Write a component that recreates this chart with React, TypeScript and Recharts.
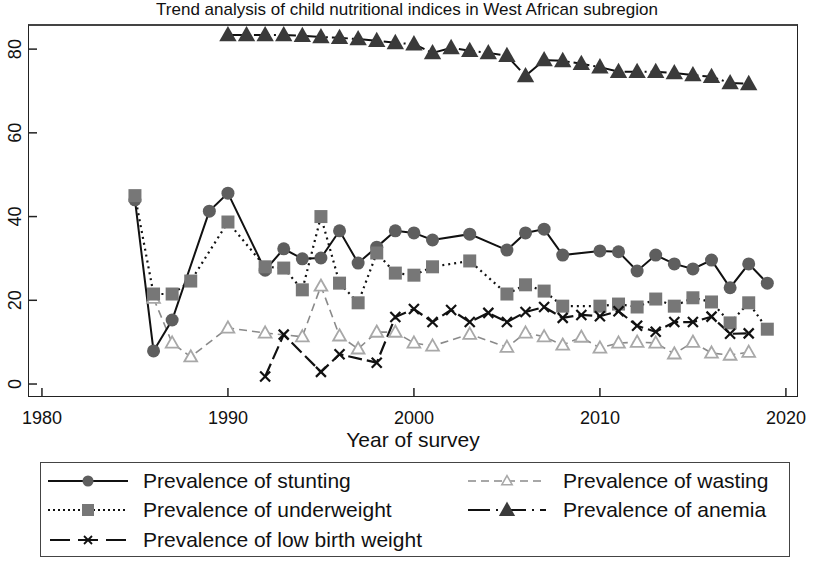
import { LineChart, Line, XAxis, YAxis } from 'recharts';

const FONT = '"Liberation Sans", Arial, sans-serif';

// survey years and prevalence (%)
const stuntingYears = [1985, 1986, 1987, 1989, 1990, 1992, 1993, 1994, 1995, 1996, 1997, 1998, 1999, 2000, 2001, 2003, 2005, 2006, 2007, 2008, 2010, 2011, 2012, 2013, 2014, 2015, 2016, 2017, 2018, 2019];
const stunting = [44, 7.9, 15.3, 41.3, 45.6, 27.2, 32.3, 29.9, 30.1, 36.6, 28.9, 32.7, 36.6, 36.1, 34.4, 35.8, 32.0, 36.1, 37.0, 30.8, 31.8, 31.6, 27.0, 30.8, 28.7, 27.5, 29.6, 23.0, 28.7, 24.1];

const underweightYears = [1985, 1986, 1987, 1988, 1990, 1992, 1993, 1994, 1995, 1996, 1997, 1998, 1999, 2000, 2001, 2003, 2005, 2006, 2007, 2008, 2010, 2011, 2012, 2013, 2014, 2015, 2016, 2017, 2018, 2019];
const underweight = [45, 21.5, 21.5, 24.6, 38.7, 28.0, 27.7, 22.5, 40.0, 24.1, 19.4, 31.3, 26.5, 26.0, 28.0, 29.4, 21.5, 23.7, 22.2, 18.6, 18.6, 19.1, 18.4, 20.3, 18.6, 20.6, 19.6, 14.6, 19.4, 13.1];

const wastingYears = [1986, 1987, 1988, 1990, 1992, 1994, 1995, 1996, 1997, 1998, 1999, 2000, 2001, 2003, 2005, 2006, 2007, 2008, 2009, 2010, 2011, 2012, 2013, 2014, 2015, 2016, 2017, 2018];
const wasting = [20.5, 9.8, 6.5, 13.4, 12.2, 11.3, 23.4, 11.5, 8.4, 12.4, 12.4, 9.8, 9.1, 11.9, 8.8, 12.2, 11.3, 9.3, 11.2, 8.6, 9.8, 10.0, 9.8, 7.2, 10.0, 7.4, 6.9, 7.6];

const lbwYears = [1992, 1993, 1995, 1996, 1998, 1999, 2000, 2001, 2002, 2003, 2004, 2005, 2006, 2007, 2008, 2009, 2010, 2011, 2012, 2013, 2014, 2015, 2016, 2017, 2018];
const lbw = [1.8, 11.8, 2.9, 7.1, 5.1, 16.0, 17.9, 14.8, 17.7, 14.8, 17.0, 14.8, 17.2, 18.4, 15.8, 16.5, 16.2, 17.4, 13.9, 12.5, 14.8, 14.8, 16.1, 12.0, 12.1];

const anemiaYears = [1990, 1991, 1992, 1993, 1994, 1995, 1996, 1997, 1998, 1999, 2000, 2001, 2002, 2003, 2004, 2005, 2006, 2007, 2008, 2009, 2010, 2011, 2012, 2013, 2014, 2015, 2016, 2017, 2018];
const anemia = [83.4, 83.4, 83.4, 83.4, 83.2, 82.9, 82.7, 82.4, 82.0, 81.5, 81.2, 79.1, 80.3, 79.6, 79.1, 78.4, 73.6, 77.4, 77.2, 76.5, 75.7, 74.6, 74.6, 74.6, 74.3, 73.8, 73.4, 71.9, 71.7];

const xTicks = [1980, 1990, 2000, 2010, 2020];
const yTicks = [0, 20, 40, 60, 80];

const allYears = Array.from(
  new Set([...stuntingYears, ...underweightYears, ...wastingYears, ...lbwYears, ...anemiaYears])
).sort((a, b) => a - b);

const pick = (years: number[], vals: number[], y: number) => {
  const i = years.indexOf(y);
  return i >= 0 ? vals[i] : null;
};

const data = allYears.map((year) => ({
  year,
  stunting: pick(stuntingYears, stunting, year),
  underweight: pick(underweightYears, underweight, year),
  wasting: pick(wastingYears, wasting, year),
  lbw: pick(lbwYears, lbw, year),
  anemia: pick(anemiaYears, anemia, year),
}));

// plot frame
const PL = 28;
const PT = 24;
const PR = 798;
const PB = 397;

const empty = (p: any) => p.cx == null || p.cy == null || p.value == null;

const CircleDot = (p: any) =>
  empty(p) ? <g key={p.index} /> : <circle key={p.index} cx={p.cx} cy={p.cy} r={6.5} fill="#5e5e5e" />;

const SquareDot = (p: any) =>
  empty(p) ? <g key={p.index} /> : <rect key={p.index} x={p.cx - 6.5} y={p.cy - 6.5} width={13} height={13} fill="#777" />;

const triPoints = (cx: number, cy: number, s: number) =>
  `${cx},${cy - s * 0.6} ${cx + s * 0.58},${cy + s * 0.42} ${cx - s * 0.58},${cy + s * 0.42}`;

const OpenTriDot = (p: any) =>
  empty(p) ? <g key={p.index} /> : (
    <polygon key={p.index} points={triPoints(p.cx, p.cy, 11)} fill="#fff" stroke="#a8a8a8" strokeWidth={1.8} />
  );

const FillTriDot = (p: any) =>
  empty(p) ? <g key={p.index} /> : <polygon key={p.index} points={triPoints(p.cx, p.cy, 15)} fill="#3a3a3a" />;

const CrossDot = (p: any) => {
  if (empty(p)) return <g key={p.index} />;
  const s = 5;
  return (
    <g key={p.index} stroke="#111" strokeWidth={2.2}>
      <line x1={p.cx - s} y1={p.cy - s} x2={p.cx + s} y2={p.cy + s} />
      <line x1={p.cx - s} y1={p.cy + s} x2={p.cx + s} y2={p.cy - s} />
    </g>
  );
};

const XTick = ({ x, payload }: any) => (
  <g>
    <line x1={x} x2={x} y1={PB} y2={PB - 9} stroke="#222" strokeWidth={1.5} />
    <text x={x} y={424} textAnchor="middle" fontSize={18} fontFamily={FONT} fill="#111">
      {payload.value}
    </text>
  </g>
);

const YTick = ({ y, payload }: any) => (
  <g>
    <line x1={PL} x2={PL + 9} y1={y} y2={y} stroke="#222" strokeWidth={1.5} />
    <text
      x={21}
      y={y}
      transform={`rotate(-90, 21, ${y})`}
      textAnchor="middle"
      fontSize={18}
      fontFamily={FONT}
      fill="#111"
    >
      {payload.value}
    </text>
  </g>
);

type Entry = { label: string; x: number; y: number; icon: JSX.Element };

const legendEntries: Entry[] = [
  {
    label: 'Prevalence of stunting',
    x: 48,
    y: 481,
    icon: (
      <g>
        <line x1={0} x2={80} y1={10} y2={10} stroke="#111" strokeWidth={2} />
        <circle cx={40} cy={10} r={5.5} fill="#5e5e5e" />
      </g>
    ),
  },
  {
    label: 'Prevalence of underweight',
    x: 48,
    y: 510,
    icon: (
      <g>
        <line x1={0} x2={80} y1={10} y2={10} stroke="#111" strokeWidth={2} strokeDasharray="2 3" />
        <rect x={34} y={4} width={12} height={12} fill="#777" />
      </g>
    ),
  },
  {
    label: 'Prevalence of low birth weight',
    x: 48,
    y: 540,
    icon: (
      <g>
        <line x1={0} x2={80} y1={10} y2={10} stroke="#111" strokeWidth={2} strokeDasharray="20 8" strokeDashoffset={-2} />
        <g stroke="#111" strokeWidth={1.8}>
          <line x1={36} y1={6} x2={44} y2={14} />
          <line x1={36} y1={14} x2={44} y2={6} />
        </g>
      </g>
    ),
  },
  {
    label: 'Prevalence of wasting',
    x: 468,
    y: 481,
    icon: (
      <g>
        <line x1={0} x2={78} y1={10} y2={10} stroke="#8a8a8a" strokeWidth={1.5} strokeDasharray="8 5" />
        <polygon points={triPoints(39, 10, 9)} fill="#fff" stroke="#a8a8a8" strokeWidth={1.5} />
      </g>
    ),
  },
  {
    label: 'Prevalence of anemia',
    x: 468,
    y: 510,
    icon: (
      <g>
        <line x1={0} x2={78} y1={10} y2={10} stroke="#111" strokeWidth={2} strokeDasharray="22 6 2 6" />
        <polygon points={triPoints(39, 10, 14)} fill="#3a3a3a" />
      </g>
    ),
  },
];

export default function App() {
  return (
    <div style={{ position: 'absolute', left: 0, top: 0, width: 814, height: 565, background: '#fff', fontFamily: FONT }}>
      <div style={{ position: 'absolute', left: 0, top: 0, width: 814, textAlign: 'center', fontSize: 17, color: '#111' }}>
        Trend analysis of child nutritional indices in West African subregion
      </div>
      <LineChart width={814} height={565} data={data} margin={{ top: PT, right: 814 - PR, bottom: 108, left: 0 }}>
        <XAxis
          dataKey="year"
          type="number"
          domain={[1979.25, 2020.65]}
          ticks={xTicks}
          height={60}
          axisLine={false}
          tickLine={false}
          tick={XTick}
          interval={0}
        />
        <YAxis
          type="number"
          domain={[-3.1, 86]}
          ticks={yTicks}
          width={PL}
          axisLine={false}
          tickLine={false}
          tick={YTick}
          interval={0}
        />
        <Line dataKey="wasting" stroke="#8a8a8a" strokeWidth={1.6} strokeDasharray="8 5" dot={OpenTriDot} connectNulls isAnimationActive={false} activeDot={false} />
        <Line dataKey="stunting" stroke="#111" strokeWidth={2} dot={CircleDot} connectNulls isAnimationActive={false} activeDot={false} />
        <Line dataKey="underweight" stroke="#111" strokeWidth={2.2} strokeDasharray="2 4" dot={SquareDot} connectNulls isAnimationActive={false} activeDot={false} />
        <Line dataKey="lbw" stroke="#111" strokeWidth={2.2} strokeDasharray="14 5" dot={CrossDot} connectNulls isAnimationActive={false} activeDot={false} />
        <Line dataKey="anemia" stroke="#111" strokeWidth={2} strokeDasharray="16 4 2 4" dot={FillTriDot} connectNulls isAnimationActive={false} activeDot={false} />
      </LineChart>
      <div
        style={{
          position: 'absolute',
          left: PL,
          top: PT,
          width: PR - PL,
          height: PB - PT,
          boxSizing: 'border-box',
          border: '1.5px solid #222',
          borderTop: '2px solid #444',
          pointerEvents: 'none',
        }}
      />
      <div style={{ position: 'absolute', left: 0, top: 428, width: 826, textAlign: 'center', fontSize: 21, color: '#111' }}>
        Year of survey
      </div>
      <div
        style={{
          position: 'absolute',
          left: 40,
          top: 462,
          width: 750,
          height: 95,
          boxSizing: 'border-box',
          border: '1.5px solid #444',
        }}
      />
      {legendEntries.map((e) => (
        <div key={e.label} style={{ position: 'absolute', left: e.x, top: e.y - 12, height: 24, display: 'flex', alignItems: 'center' }}>
          <svg width={80} height={20} style={{ overflow: 'visible' }}>
            {e.icon}
          </svg>
          <span style={{ marginLeft: 15, fontSize: 21, color: '#111', whiteSpace: 'nowrap' }}>{e.label}</span>
        </div>
      ))}
    </div>
  );
}
